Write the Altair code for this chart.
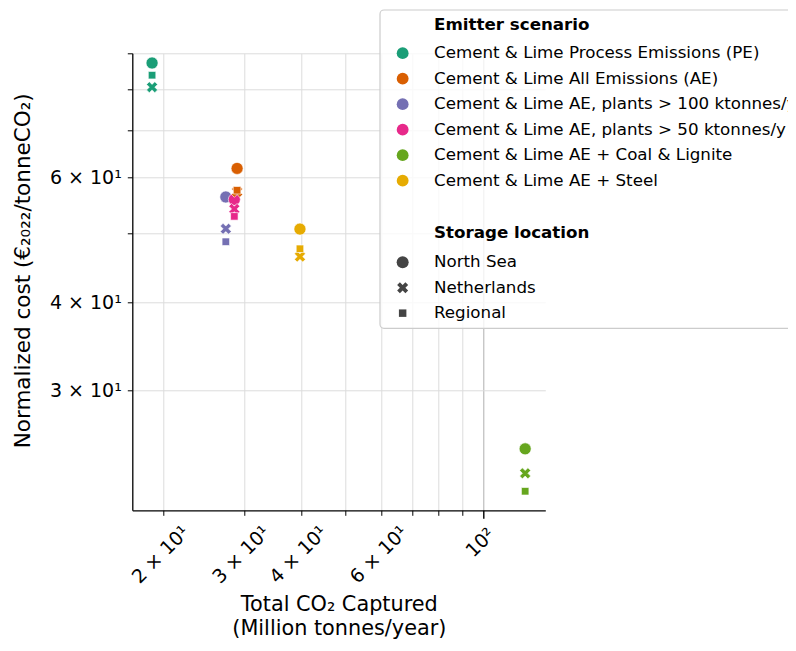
import altair as alt
import pandas as pd

scenario_names = [
    "Cement & Lime Process Emissions (PE)",
    "Cement & Lime All Emissions (AE)",
    "Cement & Lime AE, plants > 100 ktonnes/y",
    "Cement & Lime AE, plants > 50 ktonnes/y",
    "Cement & Lime AE + Coal & Lignite",
    "Cement & Lime AE + Steel",
]
scenario_colors = ["#1b9e77", "#d95f02", "#7570b3", "#e7298a", "#66a61e", "#e6ab02"]
storage_names = ["North Sea", "Netherlands", "Regional"]

total_captured = [18.9, 29.0, 27.4, 28.6, 123.7, 39.8]
cost_north_sea = [87.2, 61.85, 56.35, 55.9, 24.8, 50.75]
cost_netherlands = [80.6, 57.3, 50.8, 54.2, 22.9, 46.4]
cost_regional = [83.8, 57.6, 48.7, 52.9, 21.6, 47.6]

x_tick_values = [20, 30, 40, 50, 60, 70, 80, 90, 100]
x_tick_labels = ["2 × 10¹", "3 × 10¹", "4 × 10¹", "", "6 × 10¹", "", "", "", "10²"]
y_tick_values = [30, 40, 50, 60, 70, 80, 90]
y_tick_labels = ["3 × 10¹", "4 × 10¹", "", "6 × 10¹", "", "", ""]

legend_titles = ["Emitter scenario", "Storage location"]
x_title = ["Total CO₂ Captured", "(Million tonnes/year)"]
y_title = "Normalized cost (€₂₀₂₂/tonneCO₂)"

rows = []
for storage, costs in zip(storage_names, [cost_north_sea, cost_netherlands, cost_regional]):
    for name, xv, yv in zip(scenario_names, total_captured, costs):
        rows.append({"scenario": name, "storage": storage, "captured": xv, "cost": yv})
df = pd.DataFrame(rows)


def label_expr(values, labels):
    expr = "''"
    for v, lab in reversed(list(zip(values, labels))):
        expr = f"datum.value == {v} ? '{lab}' : ({expr})"
    return expr


X_PATH = "M0.5,-1L1,-0.5L0.5,0L1,0.5L0.5,1L0,0.5L-0.5,1L-1,0.5L-0.5,0L-1,-0.5L-0.5,-1L0,-0.5Z"
FONT = "DejaVu Sans"

x_axis = alt.Axis(
    values=x_tick_values,
    labelExpr=label_expr(x_tick_values, x_tick_labels),
    labelOverlap=False,
    labelAngle=-45,
    labelAlign="center",
    labelBaseline="middle",
    labelFontSize=19,
    labelColor="black",
    labelOffset=-3,
    labelPadding={"condition": {"test": "datum.value == 100", "value": 24}, "value": 39},
    tickSize={"condition": {"test": "datum.value == 100", "value": 8}, "value": 5},
    tickWidth={"condition": {"test": "datum.value == 100", "value": 1.4}, "value": 1},
    tickColor="black",
    grid=True,
    gridColor={"condition": {"test": "datum.value == 100", "value": "#b0b0b0"}, "value": "#dcdcdc"},
    gridWidth=1,
    domainColor="black",
    domainWidth=1.3,
    title=x_title,
    titleFontSize=20.8,
    titleFontWeight="normal",
    titleColor="black",
    titleBaseline="top",
    titleY=84,
    titleLineHeight=24,
)

y_axis = alt.Axis(
    values=y_tick_values,
    labelExpr=label_expr(y_tick_values, y_tick_labels),
    labelOverlap=False,
    labelFontSize=19,
    labelColor="black",
    labelPadding=6,
    tickSize=5,
    tickWidth=1,
    tickColor="black",
    grid=True,
    gridColor="#dcdcdc",
    gridWidth=1,
    domainColor="black",
    domainWidth=1.3,
    title=y_title,
    titleFontSize=21.5,
    titleFontWeight="normal",
    titleColor="black",
    titleAngle=270,
    titleAlign="center",
    titleBaseline="middle",
    titleX=-109,
    titleY=217,
)

color_legend = alt.Legend(
    title=None, orient="none", legendX=262, legendY=-8.5, padding=0,
    labelFontSize=16.7, labelFont=FONT, labelColor="black", labelLimit=1000,
    symbolType="circle", symbolSize=140, symbolStrokeWidth=0,
    rowPadding=7.5, labelOffset=23,
)
storage_legend = alt.Legend(
    title=None, orient="none", legendX=262, legendY=200.5, padding=0,
    labelFontSize=16.7, labelFont=FONT, labelColor="black", labelLimit=1000,
    symbolFillColor="#444444", symbolStrokeWidth=0,
    rowPadding=7.5, labelOffset=23,
)

points = alt.Chart(df).mark_point(
    filled=True, opacity=1, color="#444444", stroke="white", strokeWidth=0.6
).encode(
    x=alt.X("captured:Q", scale=alt.Scale(type="log", domain=[17.11, 136.9], nice=False), axis=x_axis),
    y=alt.Y("cost:Q", scale=alt.Scale(type="log", domain=[20.3, 90], nice=False), axis=y_axis),
    color=alt.Color("scenario:N", scale=alt.Scale(domain=scenario_names, range=scenario_colors), legend=color_legend),
    shape=alt.Shape("storage:N", scale=alt.Scale(domain=storage_names, range=["circle", X_PATH, "square"]), legend=storage_legend),
    size=alt.Size("storage:N", scale=alt.Scale(type="ordinal", domain=storage_names, range=[144, 121, 56]), legend=storage_legend),
)

one = pd.DataFrame({"k": [0]})
frame = alt.Chart(one).mark_rect(
    fill="white", fillOpacity=0.8, stroke="#cccccc", strokeWidth=1.2, cornerRadius=4
).encode(x=alt.value(247.7), x2=alt.value(720), y=alt.value(-43.3), y2=alt.value(275))

title1 = alt.Chart(one).mark_text(
    text=legend_titles[0], align="left", baseline="middle", font=FONT, fontSize=16.7, fontWeight="bold", color="black"
).encode(x=alt.value(301.7), y=alt.value(-28.3))
title2 = alt.Chart(one).mark_text(
    text=legend_titles[1], align="left", baseline="middle", font=FONT, fontSize=16.7, fontWeight="bold", color="black"
).encode(x=alt.value(301.7), y=alt.value(180))

chart = alt.layer(points, frame, title1, title2).properties(
    width=413,
    height=457,
    autosize=alt.AutoSizeParams(type="none"),
    padding={"left": 124.3, "top": 45.3, "right": 242.7, "bottom": 128.7},
).configure(font=FONT, background="white").configure_view(stroke=None)

chart.save("out.html", embed_options={"renderer": "svg", "actions": False})
